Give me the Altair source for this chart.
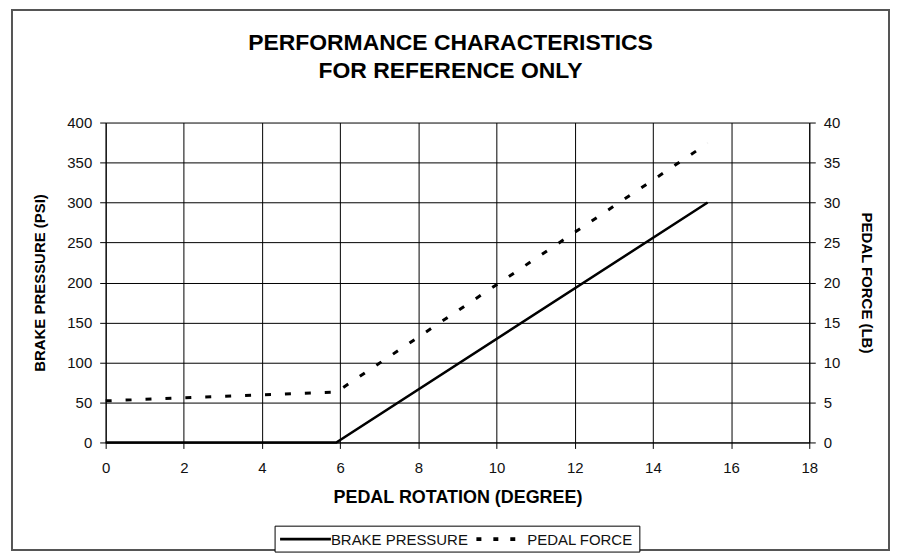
import altair as alt
import pandas as pd

# ---- data ----
rotation_brake = [0, 5.9, 15.4]
brake_pressure = [0, 0, 300]
rotation_force = [0, 5.9, 15.4]
pedal_force = [5.2, 6.3, 37.4]
series_names = ["BRAKE PRESSURE", "PEDAL FORCE"]
title_lines = ["PERFORMANCE CHARACTERISTICS", "FOR REFERENCE ONLY"]
x_ticks = list(range(0, 19))
left_ticks = list(range(0, 401, 50))
right_ticks = list(range(0, 41, 5))

brake_df = pd.DataFrame({"rot": rotation_brake, "val": brake_pressure, "series": series_names[0]})
force_df = pd.DataFrame({"rot": rotation_force, "val": pedal_force, "series": series_names[1]})
one = pd.DataFrame({"a": [0]})

FONT = "Liberation Sans"
DASH = [6, 14]

x_enc = alt.X(
    "rot:Q",
    scale=alt.Scale(domain=[0, 18], nice=False, zero=False),
    axis=alt.Axis(
        title="PEDAL ROTATION (DEGREE)",
        values=x_ticks,
        labelExpr="datum.value % 2 == 0 ? datum.label : ''",
        tickOpacity={"condition": {"test": "datum.value % 2 == 0", "value": 1}, "value": 0},
        grid=True, gridColor="black", gridOpacity=1, gridWidth=1,
        domainColor="black", tickColor="black", tickSize=6,
        labelFont=FONT, labelFontSize=15, labelColor="#111", labelPadding=12,
        labelFlush=False, labelOverlap=False,
        titleFont=FONT, titleFontSize=18, titleFontWeight="bold", titleColor="black",
        titlePadding=13,
    ),
)

brake = alt.Chart(brake_df).mark_line(color="black", strokeWidth=2.5).encode(
    x=x_enc,
    y=alt.Y(
        "val:Q",
        scale=alt.Scale(domain=[0, 400], nice=False),
        axis=alt.Axis(
            title="BRAKE PRESSURE (PSI)", orient="left", values=left_ticks,
            grid=True, gridColor="black", gridOpacity=1, gridWidth=1,
            domainColor="black", tickColor="black", tickSize=6,
            labelFont=FONT, labelFontSize=15, labelColor="#111", labelPadding=8,
            labelFlush=False,
            titleFont=FONT, titleFontSize=15, titleFontWeight="bold", titleColor="black",
            titlePadding=19,
        ),
    ),
)

force = alt.Chart(force_df).mark_line(color="black", strokeWidth=3, strokeDash=DASH).encode(
    x=alt.X("rot:Q"),
    y=alt.Y(
        "val:Q",
        scale=alt.Scale(domain=[0, 40], nice=False),
        axis=alt.Axis(
            title="PEDAL FORCE (LB)", orient="right", values=right_ticks,
            grid=False, domainColor="black", tickColor="black", tickSize=6,
            labelFont=FONT, labelFontSize=15, labelColor="#111", labelPadding=8,
            labelFlush=False,
            titleFont=FONT, titleFontSize=15, titleFontWeight="bold", titleColor="black",
            titlePadding=19,
        ),
    ),
)

frame = alt.Chart(one).mark_rect(fill="white", fillOpacity=0, stroke="#555", strokeWidth=2).encode(
    x=alt.value(-94), x2=alt.value(786), y=alt.value(-113), y2=alt.value(429)
)

def title_text(txt, y):
    return alt.Chart(one).mark_text(
        font=FONT, fontSize=23, fontWeight="bold", color="black", baseline="middle", align="center"
    ).encode(x=alt.value(346), y=alt.value(y), text=alt.value(txt))

t1 = title_text(title_lines[0], -80)
t2 = title_text(title_lines[1], -52)

# legend (drawn as marks)
leg_box = alt.Chart(one).mark_rect(fill="white", stroke="black", strokeWidth=1).encode(
    x=alt.value(170), x2=alt.value(536), y=alt.value(405), y2=alt.value(431)
)
leg_solid = alt.Chart(one).mark_rule(color="black", strokeWidth=3).encode(
    x=alt.value(175), x2=alt.value(226), y=alt.value(418)
)
leg_dash = alt.Chart(one).mark_rule(color="black", strokeWidth=4, strokeDash=[5, 12]).encode(
    x=alt.value(372), x2=alt.value(423), y=alt.value(418)
)

def leg_label(txt, x):
    return alt.Chart(one).mark_text(
        font=FONT, fontSize=15, color="#111", baseline="middle", align="left"
    ).encode(x=alt.value(x), y=alt.value(418.5), text=alt.value(txt))

l1 = leg_label(series_names[0], 226)
l2 = leg_label(series_names[1], 423)

chart = alt.layer(frame, brake, force, t1, t2, leg_box, leg_solid, leg_dash, l1, l2).resolve_scale(
    y="independent"
).properties(
    width=706, height=321,
    padding={"left": 3, "top": 0, "right": 0, "bottom": 0},
).configure_view(strokeWidth=0)

chart.save("out.html", embed_options={"renderer": "svg", "actions": False})
